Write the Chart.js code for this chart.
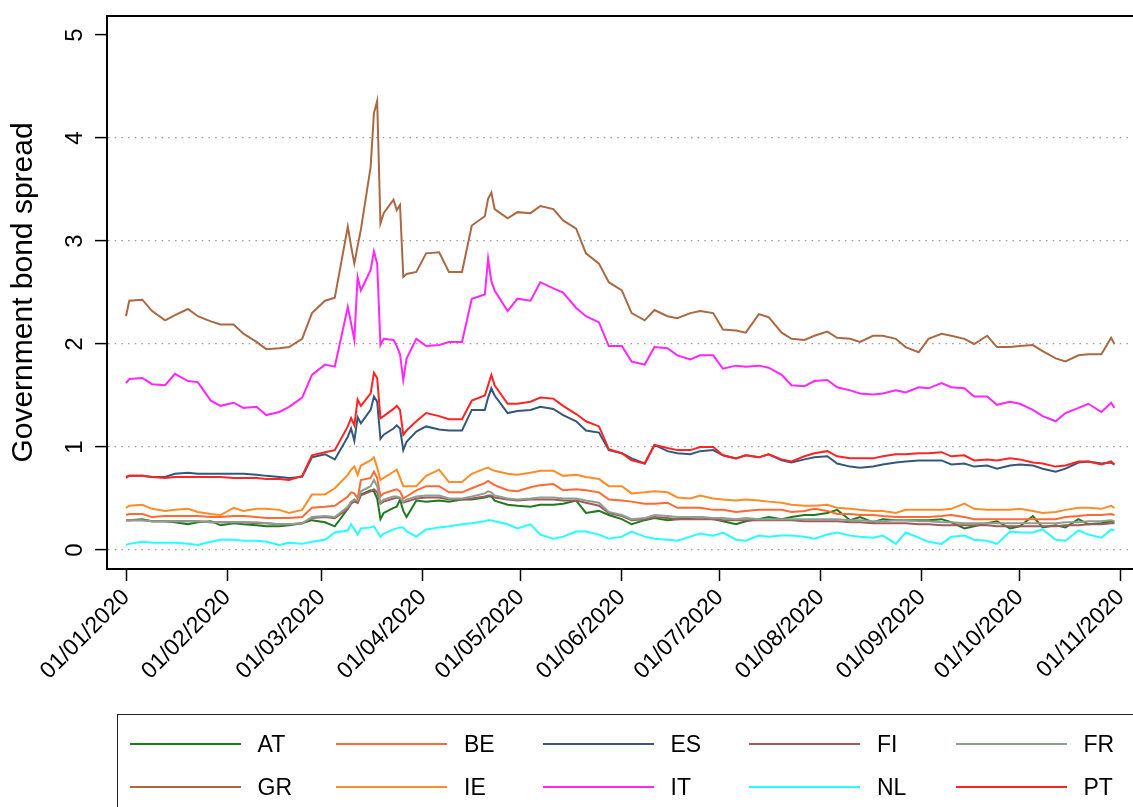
<!DOCTYPE html>
<html><head><meta charset="utf-8">
<script src="https://cdn.jsdelivr.net/npm/chart.js@4.4.1/dist/chart.umd.min.js"></script>
<style>
html,body{margin:0;padding:0;background:#fff;}
#wrap{position:relative;width:1133px;height:807px;overflow:hidden;background:#fff;}
#c{position:absolute;left:0;top:0;}
#legend{position:absolute;left:117px;top:714px;width:1040px;height:130px;border:1.5px solid #222;box-sizing:border-box;}
.li{position:absolute;height:2px;width:111px;}
.lt{position:absolute;font-family:'Liberation Sans',Arial,sans-serif;font-size:23px;line-height:26px;color:#000;white-space:nowrap;}
</style></head>
<body><div id="wrap"><canvas id="c" width="1133" height="807"></canvas><div id="legend"></div></div>
<script>
const dates=["2020-01-01","2020-01-02","2020-01-06","2020-01-09","2020-01-13","2020-01-16","2020-01-20","2020-01-23","2020-01-27","2020-01-30",
"2020-02-03","2020-02-06","2020-02-10","2020-02-13","2020-02-17","2020-02-20","2020-02-24","2020-02-27","2020-03-02","2020-03-05",
"2020-03-09","2020-03-10","2020-03-11","2020-03-12","2020-03-13","2020-03-16","2020-03-17","2020-03-18","2020-03-19","2020-03-20",
"2020-03-23","2020-03-24","2020-03-25","2020-03-26","2020-03-27","2020-03-30","2020-04-02","2020-04-06","2020-04-09","2020-04-13",
"2020-04-16","2020-04-20","2020-04-21","2020-04-22","2020-04-23","2020-04-27","2020-04-30","2020-05-04","2020-05-07","2020-05-11",
"2020-05-14","2020-05-18","2020-05-21","2020-05-25","2020-05-28","2020-06-01","2020-06-04","2020-06-08","2020-06-11","2020-06-15",
"2020-06-18","2020-06-22","2020-06-25","2020-06-29","2020-07-02","2020-07-06","2020-07-09","2020-07-13","2020-07-16","2020-07-20",
"2020-07-23","2020-07-27","2020-07-30","2020-08-03","2020-08-06","2020-08-10","2020-08-13","2020-08-17","2020-08-20","2020-08-24",
"2020-08-27","2020-08-31","2020-09-03","2020-09-07","2020-09-10","2020-09-14","2020-09-17","2020-09-21","2020-09-24","2020-09-28",
"2020-10-01","2020-10-05","2020-10-08","2020-10-12","2020-10-15","2020-10-19","2020-10-22","2020-10-26","2020-10-29","2020-10-30"];

const AT=[0.29,0.29,0.30,0.28,0.28,0.27,0.25,0.27,0.28,0.24,
0.26,0.25,0.24,0.23,0.23,0.24,0.26,0.29,0.27,0.23,
0.40,0.46,0.49,0.46,0.54,0.58,0.57,0.50,0.30,0.36,
0.41,0.42,0.49,0.38,0.32,0.48,0.47,0.48,0.47,0.49,
0.49,0.51,0.52,0.52,0.48,0.44,0.43,0.42,0.44,0.44,
0.45,0.48,0.36,0.38,0.34,0.30,0.25,0.29,0.31,0.29,
0.30,0.31,0.32,0.30,0.28,0.25,0.28,0.30,0.32,0.30,
0.32,0.34,0.34,0.36,0.39,0.29,0.32,0.27,0.30,0.29,
0.29,0.29,0.29,0.30,0.27,0.21,0.23,0.26,0.28,0.21,
0.23,0.33,0.22,0.24,0.22,0.30,0.25,0.26,0.28,0.27];

const BE=[0.34,0.35,0.35,0.32,0.33,0.33,0.33,0.33,0.32,0.32,
0.33,0.33,0.32,0.31,0.31,0.31,0.32,0.41,0.42,0.43,
0.52,0.56,0.55,0.50,0.68,0.70,0.76,0.70,0.52,0.55,
0.58,0.59,0.57,0.50,0.52,0.58,0.62,0.62,0.56,0.56,
0.60,0.65,0.67,0.65,0.63,0.58,0.57,0.61,0.63,0.64,
0.58,0.59,0.58,0.56,0.49,0.48,0.47,0.45,0.45,0.46,
0.41,0.41,0.41,0.39,0.39,0.37,0.38,0.39,0.39,0.39,
0.37,0.38,0.40,0.38,0.35,0.35,0.34,0.34,0.33,0.32,
0.32,0.32,0.32,0.33,0.34,0.32,0.30,0.30,0.30,0.30,
0.30,0.30,0.30,0.30,0.32,0.33,0.34,0.34,0.35,0.34];

const ES=[0.71,0.72,0.72,0.71,0.71,0.74,0.75,0.74,0.74,0.74,
0.74,0.74,0.73,0.72,0.71,0.70,0.71,0.90,0.93,0.88,
1.10,1.18,1.06,1.29,1.23,1.36,1.49,1.44,1.08,1.12,
1.18,1.21,1.18,0.97,1.05,1.15,1.20,1.17,1.16,1.16,
1.36,1.36,1.48,1.57,1.50,1.33,1.35,1.36,1.39,1.37,
1.31,1.25,1.16,1.14,0.97,0.94,0.89,0.84,1.02,0.96,
0.94,0.93,0.96,0.97,0.92,0.89,0.92,0.90,0.93,0.87,
0.85,0.88,0.90,0.91,0.84,0.81,0.80,0.81,0.83,0.85,
0.86,0.87,0.87,0.87,0.83,0.84,0.81,0.82,0.79,0.82,
0.83,0.82,0.79,0.76,0.79,0.85,0.86,0.84,0.85,0.83];

const FI=[0.29,0.29,0.29,0.28,0.28,0.28,0.28,0.28,0.27,0.27,
0.27,0.27,0.26,0.26,0.25,0.25,0.26,0.31,0.32,0.31,
0.40,0.45,0.47,0.46,0.53,0.57,0.59,0.56,0.45,0.47,
0.50,0.51,0.50,0.46,0.47,0.50,0.51,0.51,0.49,0.49,
0.50,0.52,0.53,0.53,0.51,0.49,0.48,0.49,0.49,0.49,
0.48,0.48,0.46,0.43,0.36,0.33,0.29,0.30,0.32,0.31,
0.30,0.30,0.30,0.30,0.29,0.29,0.29,0.29,0.29,0.29,
0.29,0.28,0.28,0.28,0.28,0.27,0.27,0.26,0.26,0.26,
0.26,0.25,0.25,0.24,0.24,0.24,0.24,0.24,0.23,0.23,
0.23,0.23,0.23,0.23,0.24,0.24,0.25,0.25,0.26,0.26];

const FR=[0.29,0.29,0.29,0.28,0.28,0.28,0.28,0.28,0.27,0.27,
0.27,0.27,0.27,0.26,0.25,0.25,0.26,0.32,0.33,0.32,
0.42,0.47,0.49,0.48,0.57,0.62,0.68,0.62,0.46,0.49,
0.52,0.52,0.51,0.47,0.49,0.52,0.53,0.53,0.50,0.50,
0.52,0.55,0.57,0.56,0.53,0.50,0.49,0.50,0.51,0.51,
0.50,0.50,0.48,0.46,0.37,0.34,0.30,0.31,0.34,0.33,
0.32,0.32,0.32,0.31,0.31,0.30,0.31,0.30,0.30,0.30,
0.30,0.30,0.30,0.30,0.30,0.29,0.29,0.28,0.28,0.29,
0.29,0.28,0.28,0.27,0.27,0.26,0.26,0.26,0.26,0.26,
0.26,0.26,0.26,0.26,0.27,0.27,0.28,0.28,0.29,0.28];

const GR=[2.27,2.42,2.43,2.32,2.23,2.28,2.34,2.27,2.22,2.19,
2.19,2.10,2.02,1.95,1.96,1.97,2.05,2.30,2.42,2.45,
3.14,2.95,2.78,2.95,3.11,3.72,4.24,4.36,3.17,3.27,
3.40,3.30,3.35,2.65,2.68,2.70,2.88,2.89,2.70,2.70,
3.15,3.24,3.41,3.47,3.31,3.22,3.28,3.27,3.34,3.31,
3.20,3.12,2.88,2.78,2.60,2.52,2.30,2.23,2.33,2.27,
2.25,2.30,2.32,2.30,2.14,2.13,2.11,2.29,2.26,2.11,
2.05,2.04,2.08,2.12,2.06,2.05,2.02,2.08,2.08,2.05,
1.97,1.92,2.05,2.10,2.08,2.05,2.00,2.08,1.97,1.97,
1.98,1.99,1.93,1.86,1.83,1.89,1.90,1.90,2.06,2.00];

const IE=[0.41,0.43,0.44,0.40,0.38,0.39,0.40,0.37,0.35,0.34,
0.41,0.38,0.40,0.40,0.39,0.36,0.39,0.54,0.54,0.60,
0.73,0.78,0.81,0.73,0.82,0.87,0.90,0.80,0.68,0.70,
0.76,0.78,0.70,0.62,0.62,0.62,0.72,0.78,0.66,0.66,
0.74,0.79,0.80,0.78,0.77,0.74,0.73,0.75,0.77,0.77,
0.72,0.73,0.71,0.69,0.62,0.62,0.55,0.56,0.57,0.56,
0.51,0.50,0.53,0.50,0.49,0.48,0.49,0.48,0.47,0.46,
0.44,0.43,0.43,0.44,0.41,0.40,0.39,0.38,0.38,0.36,
0.39,0.39,0.39,0.39,0.40,0.45,0.40,0.39,0.39,0.39,
0.40,0.38,0.36,0.37,0.39,0.41,0.41,0.40,0.43,0.41];

const IT=[1.62,1.66,1.67,1.61,1.60,1.71,1.64,1.63,1.45,1.40,
1.43,1.38,1.39,1.31,1.34,1.39,1.48,1.70,1.80,1.78,
2.36,2.20,2.04,2.65,2.52,2.72,2.90,2.78,1.99,2.05,
2.04,1.98,1.90,1.65,1.86,2.05,1.98,1.99,2.02,2.02,
2.44,2.48,2.83,2.61,2.52,2.32,2.44,2.42,2.60,2.54,
2.50,2.35,2.27,2.21,1.98,1.98,1.83,1.80,1.97,1.96,
1.89,1.85,1.89,1.89,1.76,1.79,1.78,1.79,1.77,1.70,
1.60,1.59,1.64,1.65,1.58,1.55,1.52,1.51,1.52,1.55,
1.53,1.58,1.57,1.62,1.58,1.57,1.49,1.49,1.41,1.44,
1.42,1.36,1.30,1.25,1.33,1.38,1.42,1.34,1.43,1.38];

const NL=[0.05,0.06,0.08,0.07,0.07,0.07,0.06,0.05,0.08,0.10,
0.10,0.09,0.09,0.08,0.05,0.07,0.06,0.08,0.10,0.17,
0.19,0.25,0.20,0.15,0.21,0.22,0.23,0.18,0.13,0.16,
0.20,0.21,0.22,0.22,0.18,0.13,0.20,0.22,0.23,0.25,
0.26,0.28,0.29,0.29,0.28,0.25,0.21,0.25,0.15,0.11,
0.13,0.18,0.18,0.15,0.11,0.13,0.18,0.13,0.11,0.10,
0.09,0.13,0.16,0.14,0.17,0.10,0.09,0.14,0.13,0.14,
0.14,0.13,0.11,0.15,0.17,0.14,0.13,0.12,0.14,0.06,
0.17,0.12,0.08,0.06,0.13,0.14,0.10,0.09,0.06,0.18,
0.17,0.17,0.20,0.10,0.09,0.19,0.15,0.12,0.20,0.19];

const PT=[0.70,0.72,0.72,0.71,0.70,0.71,0.71,0.71,0.71,0.71,
0.70,0.70,0.70,0.69,0.69,0.68,0.72,0.92,0.95,0.97,
1.20,1.28,1.21,1.46,1.40,1.52,1.72,1.67,1.28,1.30,
1.37,1.40,1.36,1.12,1.16,1.25,1.33,1.30,1.27,1.27,
1.45,1.50,1.60,1.70,1.60,1.42,1.42,1.44,1.48,1.47,
1.40,1.32,1.25,1.20,0.98,0.94,0.87,0.84,1.02,0.99,
0.97,0.97,1.00,1.00,0.92,0.89,0.92,0.90,0.93,0.88,
0.86,0.91,0.94,0.96,0.91,0.89,0.89,0.89,0.91,0.93,
0.93,0.94,0.94,0.95,0.91,0.92,0.87,0.88,0.87,0.89,
0.88,0.85,0.84,0.81,0.82,0.86,0.86,0.83,0.86,0.83];

const seriesNames=["AT","BE","ES","FI","FR","GR","IE","IT","NL","PT"];
const seriesColors=["#1f7a1f","#ff6a33","#33587c","#a35a5e","#8c9f90","#ab6943","#ff8c26","#ff26ff","#26ffff","#ff2424"];

const xTickDates=["2020-01-01","2020-02-01","2020-03-01","2020-04-01","2020-05-01","2020-06-01","2020-07-01","2020-08-01","2020-09-01","2020-10-01","2020-11-01"];
const xTickLabels=["01/01/2020","01/02/2020","01/03/2020","01/04/2020","01/05/2020","01/06/2020","01/07/2020","01/08/2020","01/09/2020","01/10/2020","01/11/2020"];
const yTickValues=[0,1,2,3,4,5];
const yTickLabels=["0","1","2","3","4","5"];
const yTitle="Government bond spread";

const FONT="'Liberation Sans', Arial, sans-serif";
const dayOf=s=>(Date.UTC(+s.slice(0,4),+s.slice(5,7)-1,+s.slice(8,10))-Date.UTC(2020,0,1))/86400000;
const xs=dates.map(dayOf);
const xTickVals=xTickDates.map(dayOf);
const values=[AT,BE,ES,FI,FR,GR,IE,IT,NL,PT];

const datasets=values.map((arr,i)=>({
  label:seriesNames[i],
  data:arr.map((v,j)=>({x:xs[j],y:v})),
  borderColor:seriesColors[i],
  backgroundColor:seriesColors[i],
  borderWidth:2,
  pointRadius:0,
  tension:0,
  fill:false,
  order:values.length-i
}));

const framePlugin={
  id:'frame',
  afterDraw(chart){
    const {ctx,chartArea:a,scales:{y}}=chart;
    ctx.save();
    ctx.strokeStyle='#000';ctx.lineWidth=2;
    ctx.beginPath();ctx.moveTo(a.left-1,a.top);ctx.lineTo(a.right,a.top);ctx.stroke();
    ctx.fillStyle='#000';
    ctx.font="24px "+FONT;
    ctx.textAlign='center';ctx.textBaseline='middle';
    yTickValues.forEach((v,i)=>{
      const py=y.getPixelForValue(v);
      ctx.save();ctx.translate(75,py);ctx.rotate(-Math.PI/2);
      ctx.fillText(yTickLabels[i],0,0);
      ctx.restore();
    });
    ctx.restore();
  }
};

const chart=new Chart(document.getElementById('c'),{
  type:'line',
  data:{datasets},
  options:{
    responsive:false,
    animation:false,
    devicePixelRatio:1,
    layout:{padding:{top:16,left:0,right:0,bottom:0}},
    plugins:{legend:{display:false},tooltip:{enabled:false},title:{display:false}},
    scales:{
      x:{
        type:'linear',
        min:-5.825,max:308.7,
        afterBuildTicks:s=>{s.ticks=xTickVals.map(v=>({value:v}));},
        afterFit:s=>{s.height=238;s.paddingLeft=0;s.paddingRight=0;},
        ticks:{autoSkip:false,minRotation:45,maxRotation:45,padding:3,color:'#000',
          font:{size:23,family:FONT},
          callback:(v,i)=>xTickLabels[i]},
        grid:{drawOnChartArea:false,drawTicks:true,tickLength:12,tickWidth:1.5,tickColor:'#000',color:'#000'},
        border:{display:true,color:'#000',width:2}
      },
      y:{
        min:-0.184,max:5.184,
        afterBuildTicks:s=>{s.ticks=yTickValues.map(v=>({value:v}));},
        afterFit:s=>{s.width=107;},
        ticks:{display:false},
        grid:{
          color:c=>(c.tick&&c.tick.value===5)?'rgba(0,0,0,0)':'#9a9a9a',
          lineWidth:1.2,tickLength:12,tickWidth:1.5,tickColor:'#000',tickBorderDash:[]
        },
        border:{display:true,color:'#000',width:2,dash:[1.5,5.2]},
        title:{display:true,text:yTitle,color:'#000',font:{size:30,family:FONT},padding:{top:6,bottom:0}}
      }
    }
  },
  plugins:[framePlugin]
});

// legend (HTML, built from the chart's datasets)
const lg=document.getElementById('legend');
const boxL=117+1.5, boxT=714+1.5;
chart.data.datasets.forEach((ds,i)=>{
  const col=i%5,row=Math.floor(i/5);
  const lineX=130+col*206.5;
  const rowY=row===0?744:787;
  const ln=document.createElement('div');
  ln.className='li';
  ln.style.left=(lineX-boxL)+'px';
  ln.style.top=(rowY-1-boxT)+'px';
  ln.style.background=ds.borderColor;
  lg.appendChild(ln);
  const tx=document.createElement('span');
  tx.className='lt';
  tx.textContent=ds.label;
  tx.style.left=(lineX+128-boxL)+'px';
  tx.style.top=(rowY-12.7-boxT)+'px';
  lg.appendChild(tx);
});
</script>
</body></html>
